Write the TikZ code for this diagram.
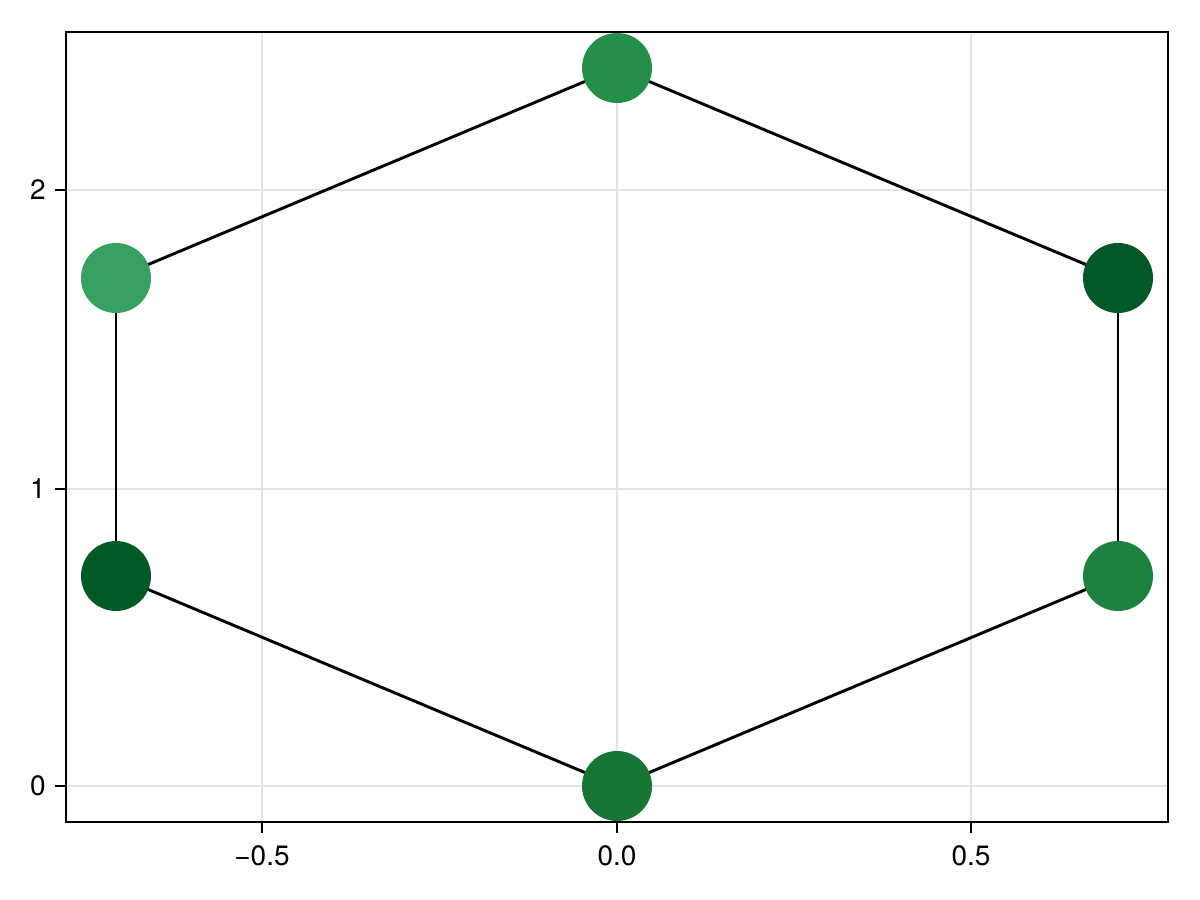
\documentclass[tikz,border=0pt]{standalone}
\usepackage{fontspec}
\setmainfont{TeX Gyre Heros}
\definecolor{cA}{HTML}{177636}
\definecolor{cB}{HTML}{1D8240}
\definecolor{cC}{HTML}{00582A}
\definecolor{cD}{HTML}{248E4A}
\definecolor{cE}{HTML}{37A062}
\definecolor{cF}{HTML}{005A26}
\definecolor{gridc}{HTML}{E3E3E3}
\tikzset{
  vert/.style={circle, inner sep=0pt, minimum size=42pt, draw=none},
  edge/.style={black, line width=1.75pt},
  gridline/.style={gridc, line width=1pt},
  spine/.style={black, line width=1.2pt},
  tickmark/.style={black, line width=1.2pt},
  ticklab/.style={font=\fontsize{16.8}{20}\selectfont, inner sep=0pt},
}
\begin{document}
\begin{tikzpicture}[x=0.6pt, y=-0.6pt]
\useasboundingbox (0,0) rectangle (1200,900);
% grid
\foreach \gx in {262,617,971} \draw[gridline] (\gx,32) -- (\gx,822);
\foreach \gy in {190,489,786} \draw[gridline] (66,\gy) -- (1168,\gy);
% nodes positions
\coordinate (p0) at (617,786);
\coordinate (p1) at (1118,576);
\coordinate (p2) at (1118,278);
\coordinate (p3) at (617,68);
\coordinate (p4) at (116,278);
\coordinate (p5) at (116,576);
% edges
\draw[edge] (p0) -- (p1);
\draw[edge] (p1) -- (p2);
\draw[edge] (p2) -- (p3);
\draw[edge] (p3) -- (p4);
\draw[edge] (p4) -- (p5);
\draw[edge] (p5) -- (p0);
% vertices
\node[vert, fill=cA] (n0) at (p0) {};
\node[vert, fill=cB] (n1) at (p1) {};
\node[vert, fill=cC] (n2) at (p2) {};
\node[vert, fill=cD] (n3) at (p3) {};
\node[vert, fill=cE] (n4) at (p4) {};
\node[vert, fill=cF] (n5) at (p5) {};
% frame
\draw[spine] (66,32) rectangle (1168,822);
% ticks
\foreach \gx/\lab in {262/{−0.5},617/{0.0},971/{0.5}} {
  \draw[tickmark] (\gx,822) -- (\gx,833);
  \node[ticklab, anchor=north] (xl\gx) at (\gx,845) {\lab};
}
\foreach \gy/\lab in {190/2,489/1,786/0} {
  \draw[tickmark] (66,\gy) -- (55,\gy);
  \node[ticklab, anchor=east] (yl\gy) at (46,\gy) {\lab};
}
\end{tikzpicture}
\end{document}
